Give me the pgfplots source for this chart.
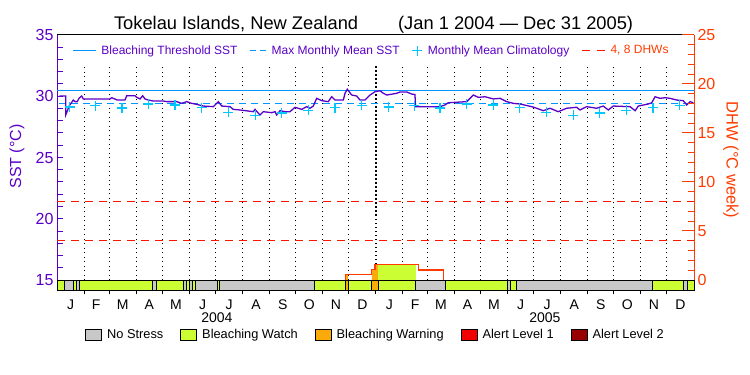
\documentclass[border=0pt]{standalone}
\usepackage{fontspec}
\setmainfont{Liberation Sans}
\usepackage{pgfplots}
\usepackage{pgfplotstable}
\pgfplotsset{compat=1.18}

\definecolor{sstpurple}{RGB}{90,0,200}
\definecolor{threshblue}{RGB}{0,150,255}
\definecolor{climcyan}{RGB}{0,200,255}
\definecolor{dhworange}{RGB}{255,60,0}
\definecolor{dhwred}{RGB}{255,20,0}
\definecolor{nsgrey}{RGB}{200,200,200}
\definecolor{watchgreen}{RGB}{204,255,51}
\definecolor{warnorange}{RGB}{250,170,10}
\definecolor{alertred}{RGB}{240,0,0}
\definecolor{alertdark}{RGB}{150,0,0}

\pgfplotstableread{
day sst
2.6 30.02
10.0 30.02
10.0 28.47
12.3 28.88
13.8 29.20
16.1 29.42
18.7 29.69
20.7 29.56
23.3 29.56
25.2 29.83
28.3 30.02
30.2 29.78
60.8 29.78
62.8 29.88
69.2 29.69
78.0 29.69
80.0 30.04
89.5 30.04
91.5 29.91
95.3 29.78
98.3 30.04
101.0 29.78
104.8 29.69
110.5 29.61
122.0 29.61
125.9 29.56
137.4 29.56
143.1 29.42
148.8 29.56
154.6 29.42
160.3 29.34
167.9 29.20
179.4 29.15
185.1 29.56
189.0 29.20
198.5 29.15
202.3 28.93
210.0 28.88
225.3 28.74
227.2 28.93
232.9 28.47
236.7 28.74
246.4 28.66
250.2 28.74
252.1 28.47
255.9 28.82
261.6 28.74
267.4 28.74
273.1 29.10
280.8 28.93
286.5 29.15
290.3 29.02
294.1 29.20
298.0 29.83
303.8 29.64
311.3 29.56
315.2 29.96
319.0 29.69
328.6 29.69
330.5 30.24
333.1 30.57
338.2 30.10
343.9 30.02
347.7 29.69
353.4 29.69
359.2 30.10
364.9 30.37
370.7 30.45
374.5 30.24
378.4 30.10
389.8 30.24
393.6 30.35
401.3 30.35
407.0 30.18
410.8 30.14
411.4 29.15
439.5 29.15
445.3 29.29
449.0 29.47
470.2 29.56
474.0 29.83
477.7 30.10
483.5 29.91
491.2 29.96
500.7 29.78
508.4 29.83
516.1 29.56
523.6 29.42
531.3 29.37
544.7 29.15
550.4 29.02
558.0 28.82
565.7 29.02
575.2 28.74
584.9 29.02
596.3 29.10
600.1 28.88
607.8 29.15
619.3 29.02
626.9 29.20
632.6 28.88
638.4 29.20
657.6 29.15
663.4 28.82
667.1 29.20
678.6 29.37
682.5 29.47
686.3 29.96
692.0 29.83
697.8 29.88
703.5 29.83
711.2 29.69
718.7 29.64
722.6 29.29
726.5 29.56
730.3 29.47
}\sstdata

\pgfplotstableread{
day clim
14.5 29.12
44 29.24
74.5 29.04
105 29.37
135.5 29.29
166 29.07
196.5 28.69
227.5 28.43
258 28.63
288.5 28.85
319 29.07
349.5 29.25
380.5 29.12
410 29.24
439.5 29.04
470 29.37
500.5 29.29
531 29.07
561.5 28.69
592.5 28.43
623 28.63
653.5 28.85
684 29.07
714.5 29.25
}\climdata

\newcommand{\seg}[3]{\addplot[fill=#3, draw=black, line width=0.9bp, forget plot] coordinates {(#1,-1.0204) (#2,-1.0204) (#2,0) (#1,0)} -- cycle;}

\begin{document}
\begin{tikzpicture}
\useasboundingbox (-57bp,-85bp) rectangle (693bp,290bp);
% ---------------- left axis (SST) ----------------
\begin{axis}[
  at={(0,0)}, anchor=south west,
  scale only axis, width=637bp, height=255bp,
  xmin=0, xmax=731, ymin=14.1837, ymax=35,
  clip=false,
  axis x line=box, axis y line*=left,
  x axis line style={black, line width=1bp},
  y axis line style={sstpurple, line width=1bp},
  xtick={15.5,45,75.5,106,136.5,167,197.5,228.5,259,289.5,320,350.5,381.5,411,440.5,471,501.5,532,562.5,593.5,624,654.5,685,715.5},
  xticklabels={J,F,M,A,M,J,J,A,S,O,N,D,J,F,M,A,M,J,J,A,S,O,N,D},
  minor xtick={31,60,91,121,152,182,213,244,274,305,335,366,397,425,456,486,517,547,578,609,639,670,700},
  xtick pos=left,
  xtick align=outside,
  major x tick style={draw=none},
  minor x tick style={black, line width=1bp},
  minor tick length=4bp,
  xticklabel style={font=\fontsize{14bp}{16bp}\selectfont, black},
  ytick={15,16,...,35},
  yticklabels={15,,,,,20,,,,,25,,,,,30,,,,,35},
  ytick pos=left,
  ytick align=inside,
  major tick length=6bp,
  major y tick style={sstpurple, line width=1bp},
  yticklabel style={font=\fontsize{16bp}{18bp}\selectfont, text=sstpurple},
  every axis y label/.style={at={(axis description cs:-0.0628,0.5235)}, rotate=90, anchor=center},
  ylabel={\fontsize{16bp}{18bp}\selectfont SST (°C)},
  ylabel style={text=sstpurple},
  legend columns=4,
  legend cell align=left,
  legend style={draw=none, fill=none, at={(axis description cs:0.4935,0.939)}, anchor=center,
    font=\fontsize{12bp}{14bp}\selectfont, text=sstpurple,
    /tikz/every odd column/.append style={column sep=3bp},
    /tikz/every even column/.append style={column sep=10bp}},
]
% dotted month boundaries
\pgfplotsinvokeforeach{31,60,91,121,152,182,213,244,274,305,335,397,425,456,486,517,547,578,609,639,670,700}{
  \addplot[black, line width=1bp, dash pattern=on 1bp off 3.5bp, forget plot] coordinates {(#1,15) (#1,32.55)};
}
\addplot[black, line width=1.5bp, dash pattern=on 1.5bp off 2.5bp, forget plot] coordinates {(366,15) (366,32.55)};
% threshold and MMM
\addplot[threshblue, line width=1.3bp, forget plot] coordinates {(0,30.48) (731,30.48)};
\addplot[threshblue, line width=1.2bp, dash pattern=on 7bp off 5bp, forget plot] coordinates {(2,29.42) (731,29.42)};
% SST
\addplot[sstpurple, line width=1.3bp, forget plot] table[x=day, y=sst] {\sstdata};
% climatology
\addplot[only marks, mark=+, mark size=5bp, climcyan, mark options={line width=1.2bp}, forget plot] table[x=day, y=clim] {\climdata};
% legend
\addlegendimage{legend image code/.code={\draw[threshblue, line width=1.3bp] (0bp,0bp) -- (23bp,0bp);}}
\addlegendentry{Bleaching Threshold SST}
\addlegendimage{legend image code/.code={\draw[threshblue, line width=1.2bp] (0bp,0bp) -- (6bp,0bp) (10bp,0bp) -- (16bp,0bp);}}
\addlegendentry{Max Monthly Mean SST}
\addlegendimage{legend image code/.code={\draw[climcyan, line width=1.2bp] (0bp,0bp) -- (10bp,0bp) (5bp,-5bp) -- (5bp,5bp);}}
\addlegendentry{Monthly Mean Climatology}
\addlegendimage{legend image code/.code={\draw[dhwred, line width=1.2bp] (0bp,0bp) -- (8bp,0bp) (15bp,0bp) -- (23bp,0bp);}}
\addlegendentry{\textcolor{dhworange}{4, 8 DHWs}}
% title and year labels
\node[anchor=base, font=\fontsize{18.3bp}{20bp}\selectfont, black] at (axis description cs:0.497,1.0196) {Tokelau Islands, New Zealand\hspace{40bp}(Jan 1 2004 — Dec 31 2005)};
\node[anchor=center, font=\fontsize{14bp}{16bp}\selectfont, black] at (axis description cs:0.251,-0.108) {2004};
\node[anchor=center, font=\fontsize{14bp}{16bp}\selectfont, black] at (axis description cs:0.766,-0.108) {2005};
\end{axis}
% ---------------- right axis (DHW) ----------------
\begin{axis}[
  at={(0,0)}, anchor=south west,
  scale only axis, width=637bp, height=255bp,
  xmin=0, xmax=731, ymin=-1.0204, ymax=25,
  clip=false,
  axis x line=none, axis y line*=right,
  y axis line style={dhworange, line width=1bp},
  ytick={0,5,...,25},
  minor ytick={1,2,3,4,6,7,8,9,11,12,13,14,16,17,18,19,21,22,23,24},
  ytick pos=right,
  ytick align=inside,
  major tick length=12bp, minor tick length=6bp,
  major y tick style={dhworange, line width=1bp},
  minor y tick style={dhworange, line width=1bp},
  yticklabel style={font=\fontsize{16bp}{18bp}\selectfont, text=dhworange, /pgf/number format/assume math mode=true},
  every axis y label/.style={at={(axis description cs:1.058,0.51)}, rotate=-90, anchor=center},
  ylabel={\fontsize{16.5bp}{18bp}\selectfont DHW (°C week)},
  ylabel style={text=dhworange},
  legend columns=5,
  legend cell align=left,
  legend style={draw=none, fill=none, at={(axis description cs:0.5,-0.1765)}, anchor=center,
    font=\fontsize{12.8bp}{15bp}\selectfont, text=black,
    /tikz/every odd column/.append style={column sep=3bp},
    /tikz/every even column/.append style={column sep=15bp}},
]
% DHW threshold lines
\addplot[dhwred, line width=1.2bp, dash pattern=on 8bp off 6bp, forget plot] coordinates {(0,4) (731,4)};
\addplot[dhwred, line width=1.2bp, dash pattern=on 8bp off 6bp, forget plot] coordinates {(0,8) (731,8)};
% fills under DHW
\addplot[fill=warnorange, draw=none, forget plot] coordinates {(330.8,0) (330.8,0.58) (334.3,0.58) (334.3,0)} -- cycle;
\addplot[fill=warnorange, draw=none, forget plot] coordinates {(361.2,0) (361.2,1.09) (365,1.09) (365,1.6) (368.7,1.6) (368.7,0)} -- cycle;
\addplot[fill=watchgreen, draw=none, forget plot] coordinates {(368.7,0) (368.7,1.6) (411.6,1.6) (411.6,0)} -- cycle;
% DHW line
\addplot[dhworange, line width=1.2bp, const plot, forget plot] coordinates {(330.8,0) (330.8,0.58) (361.2,1.09) (365,1.6) (414.6,1.02) (443.3,0)};
% status strip
\seg{0}{8.4}{watchgreen}
\seg{8.4}{18.7}{nsgrey}
\seg{18.7}{22}{watchgreen}
\seg{22}{25.6}{nsgrey}
\seg{25.6}{109.4}{watchgreen}
\seg{109.4}{114}{nsgrey}
\seg{114}{145}{watchgreen}
\seg{145}{148.8}{nsgrey}
\seg{148.8}{151.8}{watchgreen}
\seg{151.8}{155.3}{nsgrey}
\seg{155.3}{158.7}{watchgreen}
\seg{158.7}{184}{nsgrey}
\seg{184}{186.3}{watchgreen}
\seg{186.3}{295.3}{nsgrey}
\seg{295.3}{330.8}{watchgreen}
\seg{330.8}{334.3}{warnorange}
\seg{334.3}{361.2}{watchgreen}
\seg{361.2}{368.7}{warnorange}
\seg{368.7}{411.6}{watchgreen}
\seg{411.6}{445.5}{nsgrey}
\seg{445.5}{516.7}{watchgreen}
\seg{516.7}{520.2}{nsgrey}
\seg{520.2}{527.1}{watchgreen}
\seg{527.1}{683.2}{nsgrey}
\seg{683.2}{718.7}{watchgreen}
\seg{718.7}{723.3}{nsgrey}
\seg{723.3}{731}{watchgreen}
% bottom legend
\addlegendimage{legend image code/.code={\draw[fill=nsgrey, draw=black, line width=0.9bp] (0bp,-5.5bp) rectangle (16bp,5.5bp);}}
\addlegendentry{No Stress}
\addlegendimage{legend image code/.code={\draw[fill=watchgreen, draw=black, line width=0.9bp] (0bp,-5.5bp) rectangle (16bp,5.5bp);}}
\addlegendentry{Bleaching Watch}
\addlegendimage{legend image code/.code={\draw[fill=warnorange, draw=black, line width=0.9bp] (0bp,-5.5bp) rectangle (16bp,5.5bp);}}
\addlegendentry{Bleaching Warning}
\addlegendimage{legend image code/.code={\draw[fill=alertred, draw=black, line width=0.9bp] (0bp,-5.5bp) rectangle (16bp,5.5bp);}}
\addlegendentry{Alert Level 1}
\addlegendimage{legend image code/.code={\draw[fill=alertdark, draw=black, line width=0.9bp] (0bp,-5.5bp) rectangle (16bp,5.5bp);}}
\addlegendentry{Alert Level 2}
\end{axis}
\end{tikzpicture}
\end{document}
